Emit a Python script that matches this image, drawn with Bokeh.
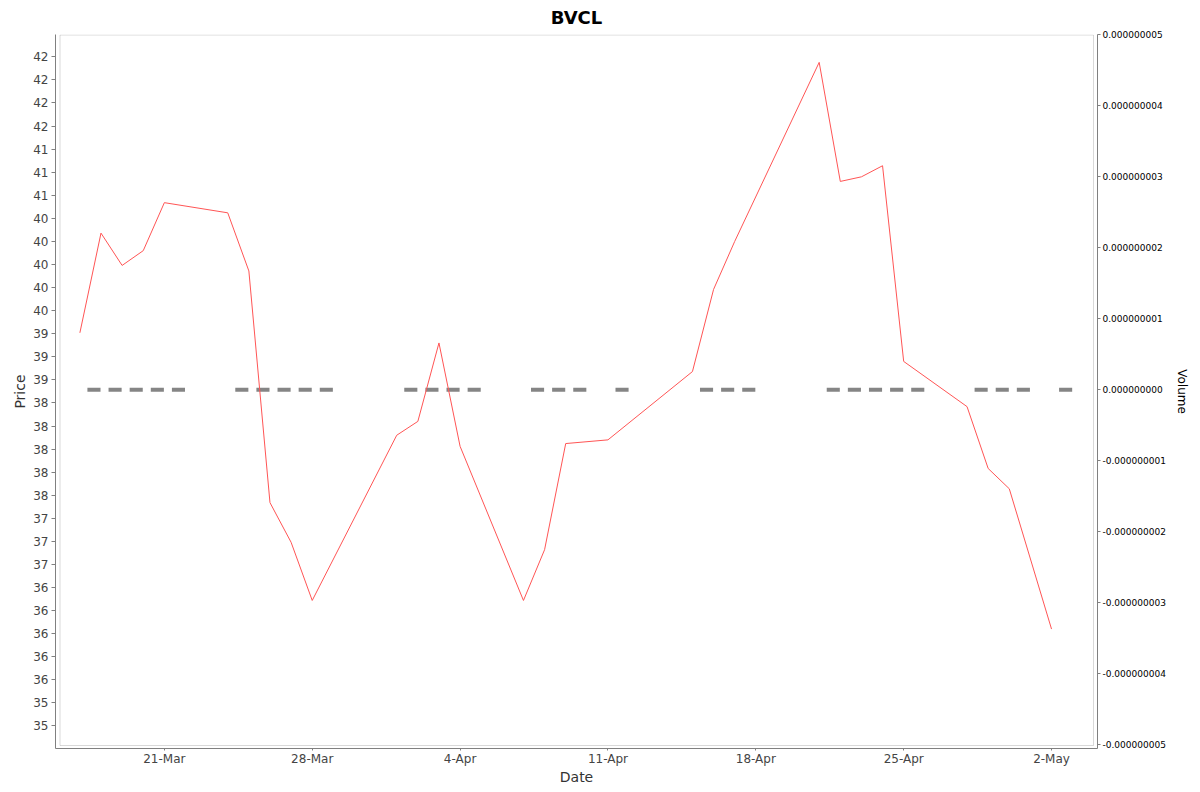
import numpy as np
import pandas as pd
from bokeh.plotting import figure
from bokeh.models import (Range1d, LinearAxis, FixedTicker, PrintfTickFormatter,
                          BoxAnnotation, ColumnDataSource)
from bokeh.embed import file_html
from bokeh.resources import INLINE

# ---------------- data ----------------
dates = ["2025-03-17", "2025-03-18", "2025-03-19", "2025-03-20", "2025-03-21",
         "2025-03-24", "2025-03-25", "2025-03-26", "2025-03-27", "2025-03-28",
         "2025-04-01", "2025-04-02", "2025-04-03", "2025-04-04",
         "2025-04-07", "2025-04-08", "2025-04-09", "2025-04-11",
         "2025-04-15", "2025-04-16", "2025-04-17",
         "2025-04-21", "2025-04-22", "2025-04-23", "2025-04-24", "2025-04-25",
         "2025-04-28", "2025-04-29", "2025-04-30", "2025-05-02"]
price = [39.26, 40.34, 39.99, 40.15, 40.67,
         40.56, 39.93, 37.42, 36.99, 36.36,
         38.15, 38.30, 39.15, 38.03,
         36.36, 36.91, 38.06, 38.10,
         38.84, 39.73, 40.25,
         42.19, 40.90, 40.95, 41.07, 38.95,
         38.46, 37.79, 37.57, 36.05]
volume = [0, 0, 0, 0, 0,
          0, 0, 0, 0, 0,
          0, 0, 0, 0,
          0, 0, 0, 0,
          0, 0, 0,
          0, 0, 0, 0, 0,
          0, 0, 0, 0]

x_tick_dates = ["2025-03-21", "2025-03-28", "2025-04-04", "2025-04-11",
                "2025-04-18", "2025-04-25", "2025-05-02"]
x_tick_labels = ["21-Mar", "28-Mar", "4-Apr", "11-Apr", "18-Apr", "25-Apr", "2-May"]

price_ticks = [35.0 + 0.25 * i for i in range(30)]
price_tick_labels = ["35", "35", "36", "36", "36", "36", "36", "37", "37", "37",
                     "38", "38", "38", "38", "38", "39", "39", "39", "40", "40",
                     "40", "40", "40", "41", "41", "41", "42", "42", "42", "42"]
volume_ticks = [i * 1e-9 for i in range(-5, 6)]

# ---------------- helpers ----------------
DAY = 86400000.0
def ms(d):
    return pd.Timestamp(d).value / 1e6

xs = [ms(d) for d in dates]
x_start = ms("2025-03-17") - 1.154 * DAY
x_end = ms("2025-05-02") + 2.176 * DAY
y_start, y_end = 34.756, 42.492

W, H = 1200, 792
BL, BR, BT, BB = 55, 103, 34, 44
p = figure(width=W, height=H, output_backend="svg", toolbar_location=None,
           x_range=Range1d(x_start, x_end), y_range=Range1d(y_start, y_end),
           min_border_left=BL, min_border_right=BR, min_border_top=BT,
           min_border_bottom=BB)
p.extra_y_ranges = {"vol": Range1d(-5.05e-9, 5.0e-9)}

p.background_fill_color = "white"
p.border_fill_color = "white"
p.outline_line_color = None
p.xgrid.visible = False
p.ygrid.visible = False

FONT = "DejaVu Sans"
AX = "#808080"

# title
p.title.text = "BVCL"
p.title.align = "center"
p.title.vertical_align = "top"
p.title.text_font = FONT
p.title.text_font_size = "18px"
p.title.text_font_style = "bold"
p.title.text_color = "black"
p.title.standoff = 10
p.title.offset = 0

# x axis
xa = p.xaxis[0]
xa.ticker = FixedTicker(ticks=[ms(d) for d in x_tick_dates])
xa.major_label_overrides = {ms(d): lab for d, lab in zip(x_tick_dates, x_tick_labels)}
xa.axis_label = "Date"

# left axis
ya = p.yaxis[0]
ya.ticker = FixedTicker(ticks=price_ticks)
ya.major_label_overrides = {t: lab for t, lab in zip(price_ticks, price_tick_labels)}
ya.axis_label = "Price"

for a in (xa, ya):
    a.axis_line_color = AX
    a.major_tick_line_color = AX
    a.minor_tick_line_color = None
    a.major_tick_in = 0
    a.major_label_text_font = FONT
    a.major_label_text_font_size = "12px"
    a.major_label_text_color = "#444444"
    a.axis_label_text_font = FONT
    a.axis_label_text_font_size = "14px"
    a.axis_label_text_font_style = "normal"
    a.axis_label_text_color = "#333333"

xa.major_tick_out = 2
xa.major_label_standoff = 1
xa.axis_label_standoff = 0
ya.major_tick_out = 4
ya.major_label_standoff = 3
ya.axis_label_standoff = 2

# right axis (volume)
ra = LinearAxis(y_range_name="vol", ticker=FixedTicker(ticks=volume_ticks),
                formatter=PrintfTickFormatter(format="%.9f"), axis_label="Volume")
ra.axis_line_color = AX
ra.major_tick_line_color = AX
ra.minor_tick_line_color = None
ra.major_tick_out = 3
ra.major_tick_in = 0
ra.major_label_text_font = FONT
ra.major_label_text_font_size = "9px"
ra.major_label_text_color = "black"
ra.major_label_standoff = 2
ra.axis_label_text_font = FONT
ra.axis_label_text_font_size = "12px"
ra.axis_label_text_font_style = "normal"
ra.axis_label_text_color = "black"
ra.axis_label_standoff = 6
p.add_layout(ra, "right")

# inner plot border (offset from the axes, like the original)
frame_w = W - BL - BR
frame_h = H - BT - BB
xpp = (x_end - x_start) / frame_w
ypp = (y_end - y_start) / frame_h
p.add_layout(BoxAnnotation(left=x_start + 4.5 * xpp, right=x_end - 4 * xpp,
                           bottom=y_start + 3 * ypp, top=y_end - 0.5 * ypp,
                           fill_color=None, line_color=AX, line_width=1))

# volume bars (zero height -> thick dashes)
vsrc = ColumnDataSource(dict(x=[x + 0.667 * DAY for x in xs], top=volume,
                             bottom=[0] * len(volume)))
p.vbar(x="x", top="top", bottom="bottom", width=0.62 * DAY, source=vsrc,
       y_range_name="vol", fill_color="#858585", line_color="#858585", line_width=4)

# price line
psrc = ColumnDataSource(dict(x=xs, y=price))
p.line(x="x", y="y", source=psrc, line_color="#ff5555", line_width=1)

open("out.html", "w").write(file_html(p, INLINE))
